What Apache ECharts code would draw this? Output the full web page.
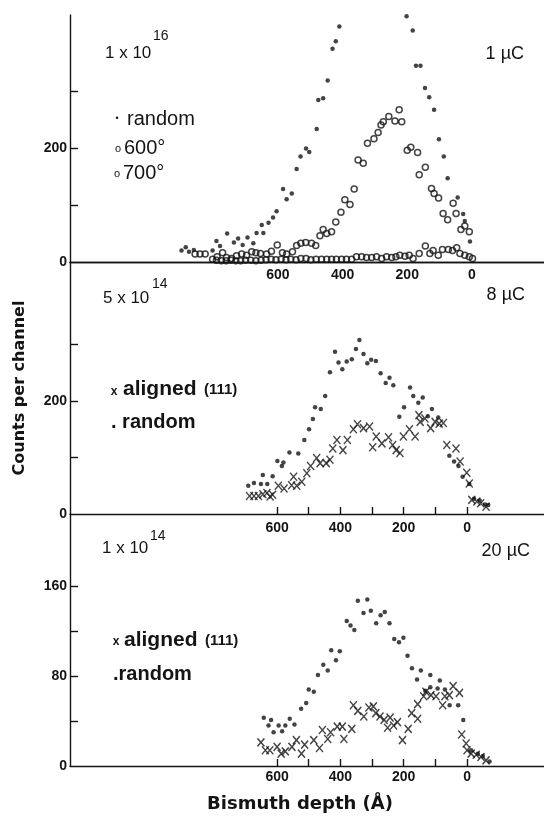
<!DOCTYPE html>
<html><head><meta charset="utf-8">
<script src="https://cdn.jsdelivr.net/npm/echarts@6/dist/echarts.min.js"></script>
<style>html,body{margin:0;padding:0;background:#fff}#c{width:544px;height:820px}</style>
</head><body><div id="c"></div>
<script>
// ---- tick labels ----
const xTickLabels = [0, 200, 400, 600];
const xTickMarks = [0, 100, 200, 300, 400, 500, 600];
const p1YLabels = [0, 200];
const p1YTicks = [100, 200, 300];
const p2YLabels = [0, 200];
const p2YTicks = [100, 200, 300];
const p3YLabels = [0, 80, 160];
const p3YTicks = [40, 80, 120, 160];

// ---- panel 1 : 1x10^16, 1 µC  [depth Å, counts] ----
const p1Random = [[898,20],[885,26],[875,18],[860,21],[802,20],[790,37],[779,28],[757,50],[736,34],[723,41],[709,30],[694,43],[676,33],[666,51],[650,65],[645,51],[629,69],[615,78],[604,89],[584,128],[573,110],[557,120],[542,163],[530,185],[513,199],[503,193],[480,233],[475,284],[460,287],[446,318],[431,374],[421,387],[410,413],[202,431],[183,406],[173,344],[159,344],[145,305],[132,289],[117,267],[102,215],[87,185],[75,147],[44,113],[27,84],[22,72],[6,36]];
const p1Ann600 = [[856,14],[841,14],[825,14],[802,5],[788,9],[771,16],[759,8],[743,6],[728,11],[712,14],[697,12],[681,18],[668,16],[654,15],[635,14],[620,19],[602,30],[586,16],[573,14],[555,18],[542,29],[529,33],[514,34],[496,33],[483,29],[470,46],[460,57],[449,50],[434,53],[421,70],[405,87],[393,109],[377,101],[364,128],[352,179],[336,173],[323,208],[303,216],[290,227],[281,240],[274,246],[257,255],[238,247],[225,267],[217,246],[200,196],[189,201],[168,192],[163,153],[144,166],[125,129],[117,120],[103,112],[89,85],[75,74],[58,103],[49,85],[34,57],[22,63],[8,53]];
const p1Ann700 = [[790,3],[775,2],[760,2],[745,3],[730,2],[715,2],[700,3],[684,3],[668,2],[652,3],[637,4],[621,5],[606,4],[590,5],[575,4],[560,5],[544,4],[529,6],[513,6],[498,4],[482,5],[465,5],[449,5],[434,5],[419,5],[403,5],[388,5],[372,5],[357,9],[341,9],[326,8],[310,8],[295,9],[279,6],[264,9],[248,8],[235,9],[223,12],[207,10],[194,12],[182,6],[163,15],[144,28],[130,15],[120,20],[104,12],[91,22],[73,22],[60,20],[47,25],[37,15],[22,12],[8,9],[-2,6]];

// ---- panel 2 : 5x10^14, 8 µC ----
const p2Random = [[691,50],[673,55],[651,53],[645,69],[631,53],[614,67],[599,94],[585,85],[580,91],[561,109],[533,107],[514,131],[499,150],[487,168],[480,189],[462,186],[448,209],[433,251],[417,287],[406,268],[394,256],[380,270],[364,274],[351,292],[340,308],[327,283],[315,267],[303,273],[288,271],[273,249],[257,232],[245,241],[233,228],[214,172],[199,189],[180,224],[170,209],[154,197],[140,206],[124,173],[111,186],[91,171],[56,103],[41,93],[27,85],[14,66],[-7,53],[-22,27],[-40,24],[-57,17],[-67,16]];
const p2Aligned = [[687,32],[673,32],[659,32],[645,35],[632,37],[622,31],[614,34],[596,50],[578,45],[554,51],[548,66],[538,50],[522,57],[506,72],[494,85],[475,99],[464,90],[445,90],[433,96],[424,116],[411,131],[392,113],[378,131],[359,150],[346,159],[327,152],[308,155],[298,118],[287,137],[269,125],[248,136],[235,122],[224,113],[212,108],[201,137],[182,150],[164,137],[152,175],[148,163],[133,169],[115,152],[101,163],[88,160],[75,161],[64,122],[35,116],[22,93],[1,73],[-7,54],[-15,25],[-31,22],[-43,19],[-60,13]];

// ---- panel 3 : 1x10^14, 20 µC ----
const p3Random = [[642,43],[627,36],[619,41],[611,30],[595,36],[584,31],[574,36],[560,42],[545,37],[524,51],[508,56],[500,68],[484,66],[471,81],[454,90],[440,85],[429,103],[414,94],[402,102],[380,129],[368,125],[356,121],[345,147],[327,136],[315,148],[304,138],[287,127],[273,134],[260,137],[245,127],[230,113],[215,110],[201,114],[188,98],[174,87],[158,77],[146,85],[132,67],[116,81],[116,70],[93,69],[86,76],[70,68],[55,54],[28,54],[12,41],[-13,14],[-34,11],[-50,9],[-71,4]];
const p3Aligned = [[651,21],[637,14],[623,14],[600,17],[587,11],[574,13],[553,17],[539,23],[523,11],[513,19],[484,23],[466,16],[457,32],[440,24],[431,30],[410,35],[394,35],[389,24],[364,33],[359,54],[345,49],[326,44],[310,52],[296,53],[288,47],[275,44],[262,41],[251,34],[243,43],[232,36],[220,39],[204,23],[186,33],[175,47],[156,42],[156,55],[137,62],[130,66],[114,63],[98,62],[77,54],[70,62],[56,63],[44,71],[24,65],[17,28],[3,20],[0,14],[-13,11],[-29,10],[-44,8],[-60,5]];

const INK = '#141414';
const FL = '"Liberation Sans", Arial, sans-serif';
const FD = '"DejaVu Sans", sans-serif';
const line = {color: INK, width: 1.4};

function xAx(grid, min, max, ticks, margin) {
  return {
    type: 'value', gridIndex: grid, inverse: true, min: min, max: max, position: 'bottom',
    axisLine: {show: true, onZero: false, lineStyle: line},
    axisTick: {show: ticks, inside: true, length: 7, customValues: xTickMarks, lineStyle: line},
    axisLabel: {customValues: xTickLabels, margin: margin, color: INK, fontFamily: FL, fontWeight: 'bold', fontSize: 14},
    splitLine: {show: false}
  };
}
function yAx(grid, max, labels, ticks) {
  return {
    type: 'value', gridIndex: grid, min: 0, max: max,
    axisLine: {show: true, onZero: false, lineStyle: line},
    axisTick: {show: true, inside: true, length: 8, customValues: ticks, lineStyle: line},
    axisLabel: {customValues: labels, margin: 3, color: INK, fontFamily: FL, fontWeight: 'bold', fontSize: 14},
    splitLine: {show: false}
  };
}

const xAxes = [
  xAx(0, -223, 1243, false, 6),
  xAx(1, -243, 1254, true, 7),
  Object.assign(xAx(2, -243, 1254, true, 4), {
    name: 'Bismuth depth (Å)', nameLocation: 'middle', nameGap: 29,
    nameTextStyle: {fontFamily: FD, fontWeight: 'bold', fontSize: 18, color: INK, padding: [0, 14, 0, 0]}
  }),
  {type: 'value', gridIndex: 0, position: 'top', min: -223, max: 1243, inverse: true,
   axisLine: {show: true, lineStyle: line}, axisTick: {show: false}, axisLabel: {show: false}, splitLine: {show: false}}
];
const yAxes = [
  yAx(0, 433, p1YLabels, p1YTicks),
  Object.assign(yAx(1, 446, p2YLabels, p2YTicks), {
    name: 'Counts per channel', nameLocation: 'middle', nameGap: 42,
    nameTextStyle: {fontFamily: FD, fontWeight: 'bold', fontSize: 16, color: INK}
  }),
  yAx(2, 224, p3YLabels, p3YTicks)
];

const dot = {symbol: 'circle', symbolSize: 4.5, itemStyle: {color: INK}};
const ring = {symbol: 'circle', symbolSize: 6, itemStyle: {color: 'rgba(0,0,0,0)', borderColor: INK, borderWidth: 1.5}};
const cross = {symbol: 'path://M0,0L10,12M10,0L0,12', symbolSize: [7, 8], itemStyle: {color: 'rgba(0,0,0,0)', borderColor: INK, borderWidth: 1.4}};

function sc(name, gi, data, style) {
  return Object.assign({type: 'scatter', name: name, xAxisIndex: gi, yAxisIndex: gi, data: data, silent: true}, JSON.parse(JSON.stringify(style)));
}

function txt(x, y, s, size, opts) {
  opts = opts || {};
  return {type: 'text', x: x, y: y, silent: true, style: {
    text: s, fontSize: size, fontFamily: opts.family || FL, fontWeight: opts.weight || 'normal',
    fill: INK, align: opts.align || 'left', verticalAlign: 'middle'}};
}

const graphics = [
  // panel 1
  txt(105, 53, '1 x 10', 17), txt(153, 36, '16', 14), txt(524, 54, '1 µC', 18, {align: 'right'}),
  txt(117, 119, '•', 9, {align: 'center'}), txt(127, 119, 'random', 20),
  txt(118, 149, 'o', 11, {align: 'center'}), txt(124, 148, '600°', 20),
  txt(117, 174, 'o', 11, {align: 'center'}), txt(123, 173, '700°', 20),
  // panel 2
  txt(103, 298, '5 x 10', 17), txt(152, 284, '14', 14), txt(525, 295, '8 µC', 18, {align: 'right'}),
  txt(114, 392, 'x', 12, {align: 'center', weight: 'bold'}), txt(123, 389, 'aligned', 21, {weight: 'bold'}),
  txt(204, 390, '(111)', 15, {weight: 'bold'}),
  txt(111, 422, '. random', 20, {weight: 'bold'}),
  // panel 3
  txt(102, 548, '1 x 10', 17), txt(150, 536, '14', 14), txt(530, 551, '20 µC', 18, {align: 'right'}),
  txt(116, 642, 'x', 12, {align: 'center', weight: 'bold'}), txt(124, 640, 'aligned', 21, {weight: 'bold'}),
  txt(205, 641, '(111)', 15, {weight: 'bold'}),
  txt(113, 674, '.random', 20, {weight: 'bold'})
];

const chart = echarts.init(document.getElementById('c'), null, {renderer: 'canvas'});
chart.setOption({
  animation: false,
  backgroundColor: '#fff',
  grid: [
    {left: 70, right: 0, top: 15, height: 247},
    {left: 70, right: 0, top: 262, height: 252},
    {left: 70, right: 0, top: 514, height: 252}
  ],
  xAxis: xAxes,
  yAxis: yAxes,
  series: [
    sc('random (1×10^16)', 0, p1Random, dot),
    sc('600°', 0, p1Ann600, ring),
    sc('700°', 0, p1Ann700, ring),
    sc('aligned (111) 8µC', 1, p2Aligned, cross),
    sc('random 8µC', 1, p2Random, dot),
    sc('aligned (111) 20µC', 2, p3Aligned, cross),
    sc('random 20µC', 2, p3Random, dot)
  ],
  graphic: graphics
});
</script></body></html>
